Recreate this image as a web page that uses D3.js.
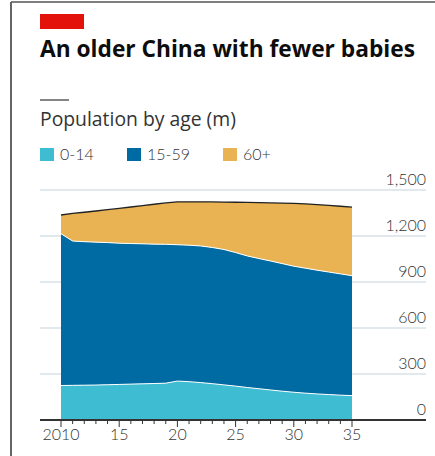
<!DOCTYPE html>
<html>
<head>
<meta charset="utf-8">
<script src="https://cdn.jsdelivr.net/npm/d3@7"></script>
<style>
  html, body { margin: 0; padding: 0; background: #fff; }
  svg { display: block; }
  text { font-family: Lato, "Noto Sans", sans-serif; }
</style>
</head>
<body>
<svg id="chart" width="435" height="456"></svg>
<script>
// values, millions
const years = d3.range(2010, 2036);
const age0to14 = [225, 226, 227, 228, 230, 232, 234, 236, 238, 240, 254, 250, 244,
  237, 229, 221, 212, 204, 196, 188, 181, 175, 170, 166, 162, 159];
const age15to59 = [990, 941, 936, 932, 927, 921, 917, 913, 909, 906, 889, 890, 891,
  888, 883, 871, 858, 849, 841, 832, 822, 815, 807, 799, 791, 782];
const age60plus = [122, 180, 192, 203, 215, 227, 238, 249, 260, 270, 280, 283, 288,
  297, 309, 328, 349, 365, 379, 395, 410, 420, 428, 435, 441, 447];
const seriesNames = ["0-14", "15-59", "60+"];
const seriesColors = ["#3ebcd2", "#006ba2", "#e9b353"];
const yTicks = [0, 300, 600, 900, 1200, 1500];
const xTickLabels = ["2010", "15", "20", "25", "30", "35"];

const svg = d3.select("#chart");

// shrink/grow a label until it spans the width seen in the reference
function fitWidth(sel, target) {
  let size = +sel.attr("font-size");
  for (let k = 0; k < 30; k++) {
    const w = sel.node().getComputedTextLength();
    if (Math.abs(w - target) < 2) break;
    size *= target / w;
    sel.attr("font-size", size.toFixed(2));
  }
}

// frame
svg.append("line").attr("x1", 11).attr("x2", 11).attr("y1", 2).attr("y2", 456)
  .attr("stroke", "#333").attr("stroke-width", 1.5);
svg.append("line").attr("x1", 11).attr("x2", 435).attr("y1", 2).attr("y2", 2)
  .attr("stroke", "#555").attr("stroke-width", 1.5);

// header
svg.append("rect").attr("x", 40).attr("y", 14).attr("width", 44).attr("height", 15)
  .attr("fill", "#e3120b");
const title = svg.append("text").attr("x", 40).attr("y", 57)
  .attr("font-size", 24).attr("font-weight", 700).attr("fill", "#0d0d0d")
  .style("font-family", "'Open Sans', Lato, sans-serif")
  .text("An older China with fewer babies");
fitWidth(title, 375);
svg.append("line").attr("x1", 40).attr("x2", 69).attr("y1", 100).attr("y2", 100)
  .attr("stroke", "#0d0d0d").attr("stroke-width", 1);
const subtitle = svg.append("text").attr("x", 40).attr("y", 126)
  .attr("font-size", 18).attr("fill", "#333")
  .style("font-family", "'Open Sans', Lato, sans-serif")
  .text("Population by age (m)");
fitWidth(subtitle, 196);

// legend
const legendX = [40, 127, 223];
const legend = svg.append("g");
seriesNames.forEach((name, i) => {
  legend.append("rect").attr("x", legendX[i]).attr("y", 148)
    .attr("width", 14).attr("height", 13).attr("fill", seriesColors[i]);
  legend.append("text").attr("x", legendX[i] + 20).attr("y", 160)
    .attr("font-size", 16).attr("font-weight", 300)
    .attr("fill", "#333").text(name);
});

// scales
const x = d3.scaleLinear().domain([2010, 2035]).range([61, 352]);
const y = d3.scaleLinear().domain([0, 1500]).range([420, 190]);

// gridlines + labels
const grid = svg.append("g");
yTicks.forEach(t => {
  if (t > 0) {
    grid.append("line").attr("x1", 40).attr("x2", 426)
      .attr("y1", y(t)).attr("y2", y(t))
      .attr("stroke", "#c3d3dc").attr("stroke-width", 1);
  }
  grid.append("text").attr("x", 426).attr("y", y(t) - 5)
    .attr("text-anchor", "end").attr("font-size", 16).attr("font-weight", 300)
    .attr("fill", "#333").text(d3.format(",")(t));
});

// stacked areas
const rows = years.map((yr, i) => ({
  year: yr, "0-14": age0to14[i], "15-59": age15to59[i], "60+": age60plus[i]
}));
const stacked = d3.stack().keys(seriesNames)(rows);
const area = d3.area()
  .x(d => x(d.data.year)).y0(d => y(d[0])).y1(d => y(d[1]));
const line = d3.line().x(d => x(d.data.year)).y(d => y(d[1]));

const areas = svg.append("g");
stacked.forEach((s, i) => {
  areas.append("path").attr("d", area(s)).attr("fill", seriesColors[i]);
});
stacked.slice(0, 2).forEach(s => {
  areas.append("path").attr("d", line(s)).attr("fill", "none")
    .attr("stroke", "#fff").attr("stroke-width", 1);
});
areas.append("path").attr("d", line(stacked[2])).attr("fill", "none")
  .attr("stroke", "#222").attr("stroke-width", 1.3);

// x axis
svg.append("line").attr("x1", 40).attr("x2", 426).attr("y1", 420).attr("y2", 420)
  .attr("stroke", "#333").attr("stroke-width", 2);
const ticks = svg.append("g");
years.forEach(yr => {
  const major = (yr - 2010) % 5 === 0;
  ticks.append("line").attr("x1", x(yr)).attr("x2", x(yr))
    .attr("y1", 420).attr("y2", major ? 427 : 424)
    .attr("stroke", "#333").attr("stroke-width", 1);
});
xTickLabels.forEach((lab, i) => {
  ticks.append("text").attr("x", x(2010 + i * 5)).attr("y", 440)
    .attr("text-anchor", "middle").attr("font-size", 16).attr("font-weight", 300)
    .attr("fill", "#333").text(lab);
});
</script>
</body>
</html>
